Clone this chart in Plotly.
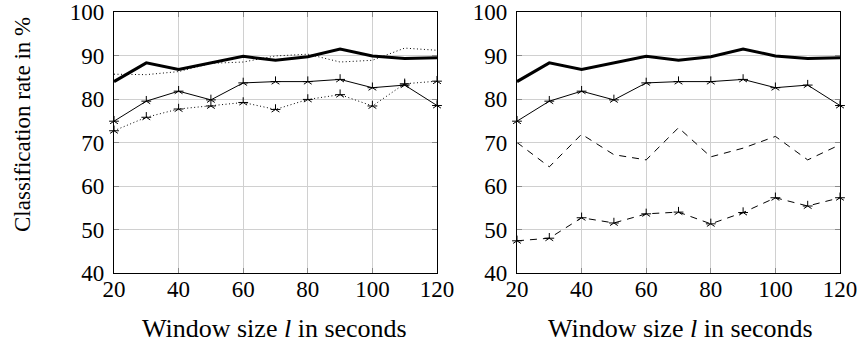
import plotly.graph_objects as go

# ---- data ----
window = [20, 30, 40, 50, 60, 70, 80, 90, 100, 110, 120]
thick_best = [84.0, 88.3, 86.8, 88.3, 89.8, 88.9, 89.7, 91.5, 89.9, 89.3, 89.5]
solid_star = [74.9, 79.5, 81.8, 79.8, 83.7, 84.0, 84.0, 84.5, 82.6, 83.2, 78.5]
left_dotted = [85.7, 85.6, 86.3, 88.2, 88.5, 89.9, 90.3, 88.5, 88.9, 91.7, 91.2]
left_dotted_star = [72.7, 75.8, 77.7, 78.4, 79.2, 77.6, 79.9, 81.0, 78.4, 83.5, 84.1]
right_dashed = [70.0, 64.4, 71.9, 67.2, 66.0, 73.4, 66.7, 68.7, 71.4, 66.0, 69.5]
right_dashed_star = [47.4, 48.0, 52.7, 51.5, 53.6, 54.0, 51.3, 53.9, 57.3, 55.4, 57.3]
x_ticks = [20, 40, 60, 80, 100, 120]
y_ticks = [40, 50, 60, 70, 80, 90, 100]
x_title = "Window size <i>l</i> in seconds"
y_title = "Classification rate in %"

W, H = 861, 347
FONT = "Liberation Serif"

fig = go.Figure()


def add_series(y, xa, ya, width=1.0, dash="solid", star=False):
    fig.add_trace(go.Scatter(
        x=window, y=y, xaxis=xa, yaxis=ya, mode="lines+markers" if star else "lines",
        line=dict(color="black", width=width, dash=dash),
        marker=dict(symbol="y-up-open", size=6.5, color="black",
                    line=dict(color="black", width=1)),
        cliponaxis=False, showlegend=False, hoverinfo="skip"))
    if star:
        fig.add_trace(go.Scatter(
            x=window, y=y, xaxis=xa, yaxis=ya, mode="markers",
            marker=dict(symbol="line-ew-open", size=7, color="black",
                        line=dict(color="black", width=1)),
            cliponaxis=False, showlegend=False, hoverinfo="skip"))


DOT = "1px,2.5px"
DASH = "7px,6px"

# left panel
add_series(left_dotted, "x", "y", width=1.0, dash=DOT)
add_series(left_dotted_star, "x", "y", width=1.0, dash=DOT, star=True)
add_series(solid_star, "x", "y", width=1.0, star=True)
add_series(thick_best, "x", "y", width=3.0)

# right panel
add_series(right_dashed, "x2", "y2", width=1.0, dash=DASH)
add_series(right_dashed_star, "x2", "y2", width=1.0, dash=DASH, star=True)
add_series(solid_star, "x2", "y2", width=1.0, star=True)
add_series(thick_best, "x2", "y2", width=3.0)

ydom = [1 - 273 / H, 1 - 12 / H]
common_x = dict(range=[20, 120], tickvals=x_ticks, showgrid=True, gridcolor="#d0d0d0",
                gridwidth=1, showline=True, linecolor="black", linewidth=1.2, mirror="ticks",
                ticks="inside", ticklen=5, tickcolor="#8a8a8a", tickwidth=1,
                zeroline=False, ticklabelstandoff=-5, ticklabeloverflow="allow",
                automargin=False,
                tickfont=dict(family=FONT, size=23, color="black"))
common_y = dict(range=[40, 100], tickvals=y_ticks, showgrid=True, gridcolor="#d0d0d0",
                gridwidth=1, showline=True, linecolor="black", linewidth=1.2, mirror="ticks",
                ticks="inside", ticklen=5, tickcolor="#8a8a8a", tickwidth=1,
                zeroline=False, ticklabelstandoff=4, ticklabeloverflow="allow",
                automargin=False,
                tickfont=dict(family=FONT, size=23, color="black"))

fig.update_layout(
    width=W, height=H, margin=dict(l=0, r=0, t=0, b=0, autoexpand=False),
    paper_bgcolor="white", plot_bgcolor="white",
    xaxis=dict(domain=[114 / W, 437 / W], anchor="y", **common_x),
    yaxis=dict(domain=ydom, anchor="x", **common_y),
    xaxis2=dict(domain=[517 / W, 840 / W], anchor="y2", **common_x),
    yaxis2=dict(domain=ydom, anchor="x2", **common_y),
    annotations=[
        dict(text=x_title, x=274 / W, y=1 - 328 / H, xref="paper", yref="paper",
             showarrow=False, font=dict(family=FONT, size=26, color="black"),
             xanchor="center", yanchor="middle"),
        dict(text=x_title, x=680 / W, y=1 - 328 / H, xref="paper", yref="paper",
             showarrow=False, font=dict(family=FONT, size=26, color="black"),
             xanchor="center", yanchor="middle"),
        dict(text=y_title, x=22 / W, y=1 - 125 / H, xref="paper", yref="paper",
             showarrow=False, textangle=-90, font=dict(family=FONT, size=23, color="black"),
             xanchor="center", yanchor="middle"),
    ],
)

fig.write_html("out.html", config={"displayModeBar": False},
               post_script="document.body.style.margin='0';document.body.style.overflow='hidden';")
